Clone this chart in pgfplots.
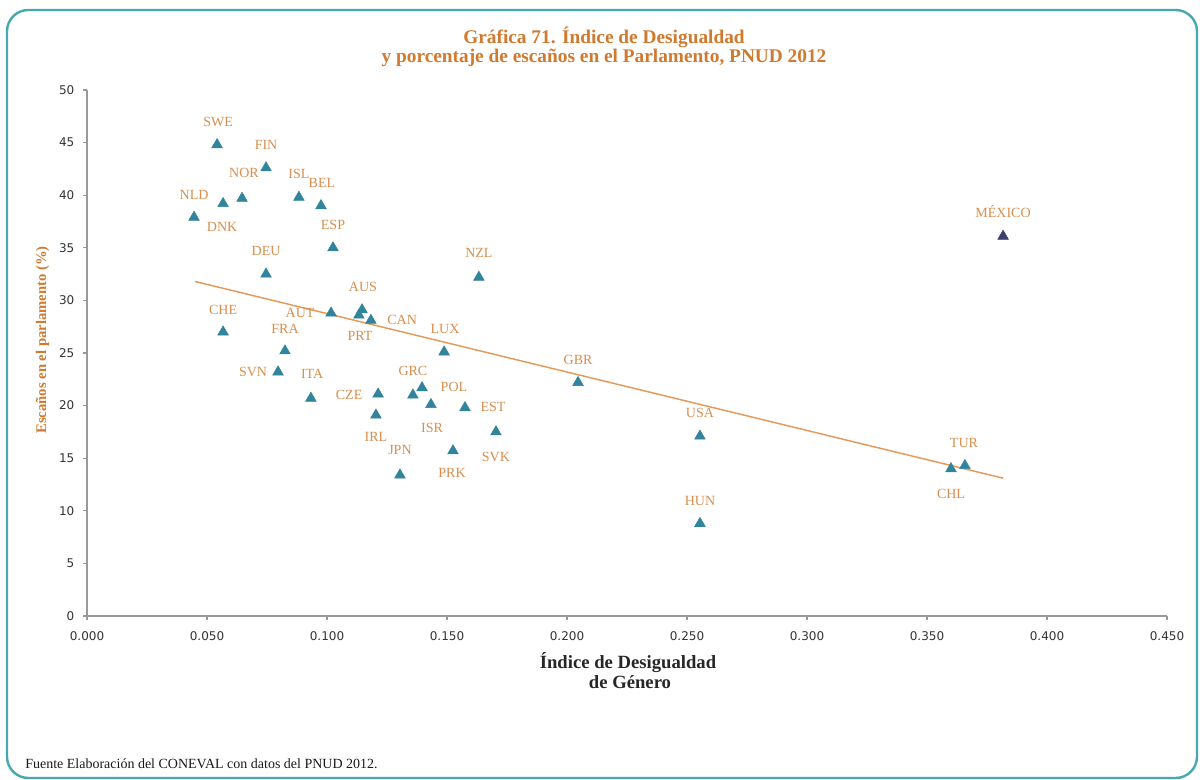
\documentclass[border=0pt]{standalone}
\usepackage{fontspec}
\setmainfont{Liberation Serif}
\newfontfamily\tickfont{DejaVu Sans}
\usepackage{pgfplots}
\usepackage{pgfplotstable}
\pgfplotsset{compat=1.18}
\definecolor{framec}{HTML}{45A9AE}
\definecolor{titlec}{HTML}{D07A30}
\definecolor{labc}{HTML}{D78E4E}
\definecolor{ptc}{HTML}{31849B}
\definecolor{mexc}{HTML}{403E6E}
\definecolor{trendc}{HTML}{E39A5A}
\tikzset{lab/.style={text=labc, font=\fontsize{10.5}{12}\selectfont, inner sep=0pt}}

\pgfplotstableread{
x y
0.0542 44.8
0.0746 42.6
0.0646 39.7
0.0567 39.2
0.0446 37.9
0.0883 39.8
0.0975 39.0
0.1025 35.0
0.0746 32.5
0.0567 27.0
0.1017 28.8
0.1146 29.1
0.1133 28.6
0.1183 28.1
0.0825 25.2
0.0796 23.2
0.0933 20.7
0.1213 21.1
0.1204 19.1
0.1304 13.4
0.1396 21.7
0.1358 21.0
0.1433 20.1
0.1575 19.8
0.1704 17.5
0.1525 15.7
0.1633 32.2
0.1488 25.1
0.2046 22.2
0.2554 17.1
0.2554 8.8
0.3600 14.0
0.3658 14.3
}\oecd

\pgfplotstableread{
x y
0.3817 36.1
}\mexico

\begin{document}
\begin{tikzpicture}
\useasboundingbox (0,0) rectangle (900pt,-585pt);
\draw[framec, line width=1.8pt, rounded corners=16pt] (5.25pt,-7.5pt) rectangle (897.75pt,-583.5pt);
\node[text=titlec, font=\bfseries\fontsize{14.5}{16}\selectfont] at (453pt,-27.75pt) {Gráfica 71. Índice de Desigualdad};
\node[text=titlec, font=\bfseries\fontsize{14.5}{16}\selectfont] at (453pt,-43.5pt) {y porcentaje de escaños en el Parlamento, PNUD 2012};
\node[text=black!85, font=\bfseries\fontsize{14}{16}\selectfont] at (471pt,-497.25pt) {Índice de Desigualdad};
\node[text=black!85, font=\bfseries\fontsize{14}{16}\selectfont] at (472.5pt,-511.5pt) {de Género};
\node[text=titlec, font=\bfseries\fontsize{11}{12}\selectfont, rotate=90] at (32pt,-255pt) {Escaños en el parlamento (\%)};
\node[anchor=west, text=black!90, font=\fontsize{10.5}{12}\selectfont, inner sep=0pt] at (18.75pt,-572.5pt) {Fuente Elaboración del CONEVAL con datos del PNUD 2012.};
\begin{axis}[
  at={(65.25pt,-462pt)}, anchor=south west,
  scale only axis, width=810pt, height=394.5pt,
  xmin=0, xmax=0.45, ymin=0, ymax=50,
  xtick={0,0.05,0.1,0.15,0.2,0.25,0.3,0.35,0.4,0.45},
  xticklabels={0.000,0.050,0.100,0.150,0.200,0.250,0.300,0.350,0.400,0.450},
  ytick={0,5,10,15,20,25,30,35,40,45,50},
  axis x line*=bottom, axis y line*=left,
  axis line style={-, draw=black!40, line width=0.8pt},
  tick align=outside, major tick length=3pt,
  tick style={draw=black!40, line width=0.8pt},
  ticklabel style={font=\tickfont\fontsize{9}{11}\selectfont, text=black!80},
  /pgf/number format/assume math mode=true,
  yticklabel style={xshift=-3pt},
  xticklabel style={yshift=-5pt},
  clip=false,
]
\addplot[trendc, line width=1.1pt] coordinates {(0.045,31.8) (0.3817,13.1)};
\addplot[only marks, mark=triangle*, mark size=4.6pt, color=ptc] table {\oecd};
\addplot[only marks, mark=triangle*, mark size=4.6pt, color=mexc] table {\mexico};
\node[lab] at (axis cs:0.0546,47.0) {SWE};
\node[lab] at (axis cs:0.0746,44.8) {FIN};
\node[lab] at (axis cs:0.0654,42.1) {NOR};
\node[lab] at (axis cs:0.0883,42.0) {ISL};
\node[lab] at (axis cs:0.0979,41.2) {BEL};
\node[lab] at (axis cs:0.0446,40.0) {NLD};
\node[lab] at (axis cs:0.0563,37.0) {DNK};
\node[lab] at (axis cs:0.1025,37.2) {ESP};
\node[lab] at (axis cs:0.0746,34.7) {DEU};
\node[lab] at (axis cs:0.1633,34.5) {NZL};
\node[lab] at (axis cs:0.1150,31.3) {AUS};
\node[lab] at (axis cs:0.0567,29.1) {CHE};
\node[lab] at (axis cs:0.0888,28.8) {AUT};
\node[lab] at (axis cs:0.1313,28.1) {CAN};
\node[lab] at (axis cs:0.1138,26.6) {PRT};
\node[lab] at (axis cs:0.0825,27.3) {FRA};
\node[lab] at (axis cs:0.1492,27.3) {LUX};
\node[lab] at (axis cs:0.0692,23.2) {SVN};
\node[lab] at (axis cs:0.0938,23.0) {ITA};
\node[lab] at (axis cs:0.1358,23.3) {GRC};
\node[lab] at (axis cs:0.1529,21.8) {POL};
\node[lab] at (axis cs:0.1092,21.0) {CZE};
\node[lab] at (axis cs:0.1692,19.9) {EST};
\node[lab] at (axis cs:0.1438,17.9) {ISR};
\node[lab] at (axis cs:0.1204,17.0) {IRL};
\node[lab] at (axis cs:0.1304,15.8) {JPN};
\node[lab] at (axis cs:0.1704,15.1) {SVK};
\node[lab] at (axis cs:0.1521,13.6) {PRK};
\node[lab] at (axis cs:0.2046,24.3) {GBR};
\node[lab] at (axis cs:0.2554,19.3) {USA};
\node[lab] at (axis cs:0.2554,10.9) {HUN};
\node[lab] at (axis cs:0.3654,16.4) {TUR};
\node[lab] at (axis cs:0.3600,11.6) {CHL};
\node[lab] at (axis cs:0.3817,38.4) {MÉXICO};
\end{axis}
\end{tikzpicture}
\end{document}
